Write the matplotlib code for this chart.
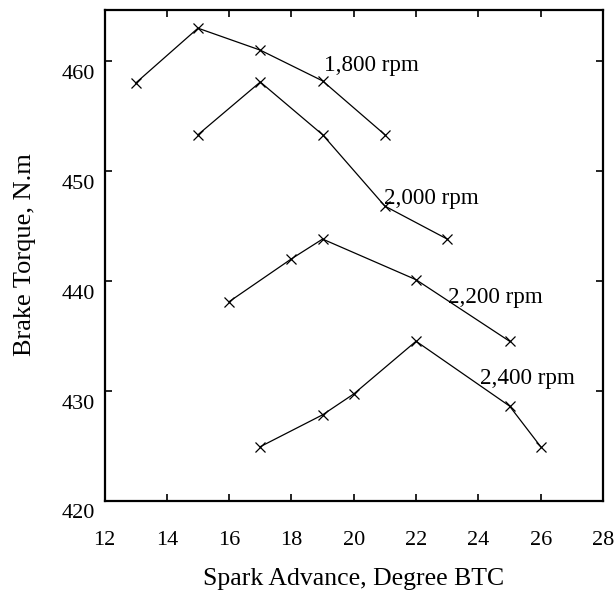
import matplotlib

matplotlib.use("Agg")
import matplotlib.pyplot as plt
from matplotlib.transforms import ScaledTranslation

# brake torque vs spark advance, one curve per engine speed
adv_1800 = [13, 15, 17, 19, 21]
torque_1800 = [458.0, 463.0, 461.0, 458.2, 453.3]

adv_2000 = [15, 17, 19, 21, 23]
torque_2000 = [453.3, 458.1, 453.3, 446.8, 443.8]

adv_2200 = [16, 18, 19, 22, 25]
torque_2200 = [438.1, 442.0, 443.8, 440.1, 434.5]

adv_2400 = [17, 19, 20, 22, 25, 26]
torque_2400 = [424.9, 427.8, 429.7, 434.5, 428.6, 424.9]

labels = ["1,800 rpm", "2,000 rpm", "2,200 rpm", "2,400 rpm"]
label_pos = [(19.05, 459.6), (20.98, 447.5), (23.02, 438.5), (24.05, 431.1)]

x_ticks = [12, 14, 16, 18, 20, 22, 24, 26, 28]
y_ticks = [420, 430, 440, 450, 460]

plt.rcParams["font.family"] = ["Liberation Serif", "DejaVu Serif"]

fig = plt.figure(figsize=(6.16, 5.94), dpi=100)
ax = fig.add_axes([104.5 / 616, 1 - 500.5 / 594, 498.5 / 616, 491 / 594])

curves = [
    (adv_1800, torque_1800),
    (adv_2000, torque_2000),
    (adv_2200, torque_2200),
    (adv_2400, torque_2400),
]
for xs, ys in curves:
    ax.plot(xs, ys, color="black", linewidth=0.9, marker="x",
            markersize=6.5, markeredgewidth=0.9)

for text, (tx, ty) in zip(labels, label_pos):
    ax.text(tx, ty, text, fontsize=16.7, va="center", ha="left")

ax.set_xlim(12, 28)
ax.set_ylim(420, 464.7)
ax.set_xticks(x_ticks)
ax.set_yticks(y_ticks)
ax.tick_params(direction="in", length=5, width=1.2, top=True, right=True,
               labelsize=16)
ax.tick_params(axis="x", pad=22)
ax.tick_params(axis="y", pad=7)
for spine in ax.spines.values():
    spine.set_linewidth(1.6)

# y tick labels sit a little below their ticks
shift = ScaledTranslation(0, -0.11, fig.dpi_scale_trans)
for lbl in ax.get_yticklabels():
    lbl.set_transform(lbl.get_transform() + shift)

ax.set_xlabel("Spark Advance, Degree BTC", fontsize=18.5, labelpad=13)
ax.set_ylabel("Brake Torque, N.m", fontsize=19, labelpad=18)

fig.savefig("out.png", dpi=100)
